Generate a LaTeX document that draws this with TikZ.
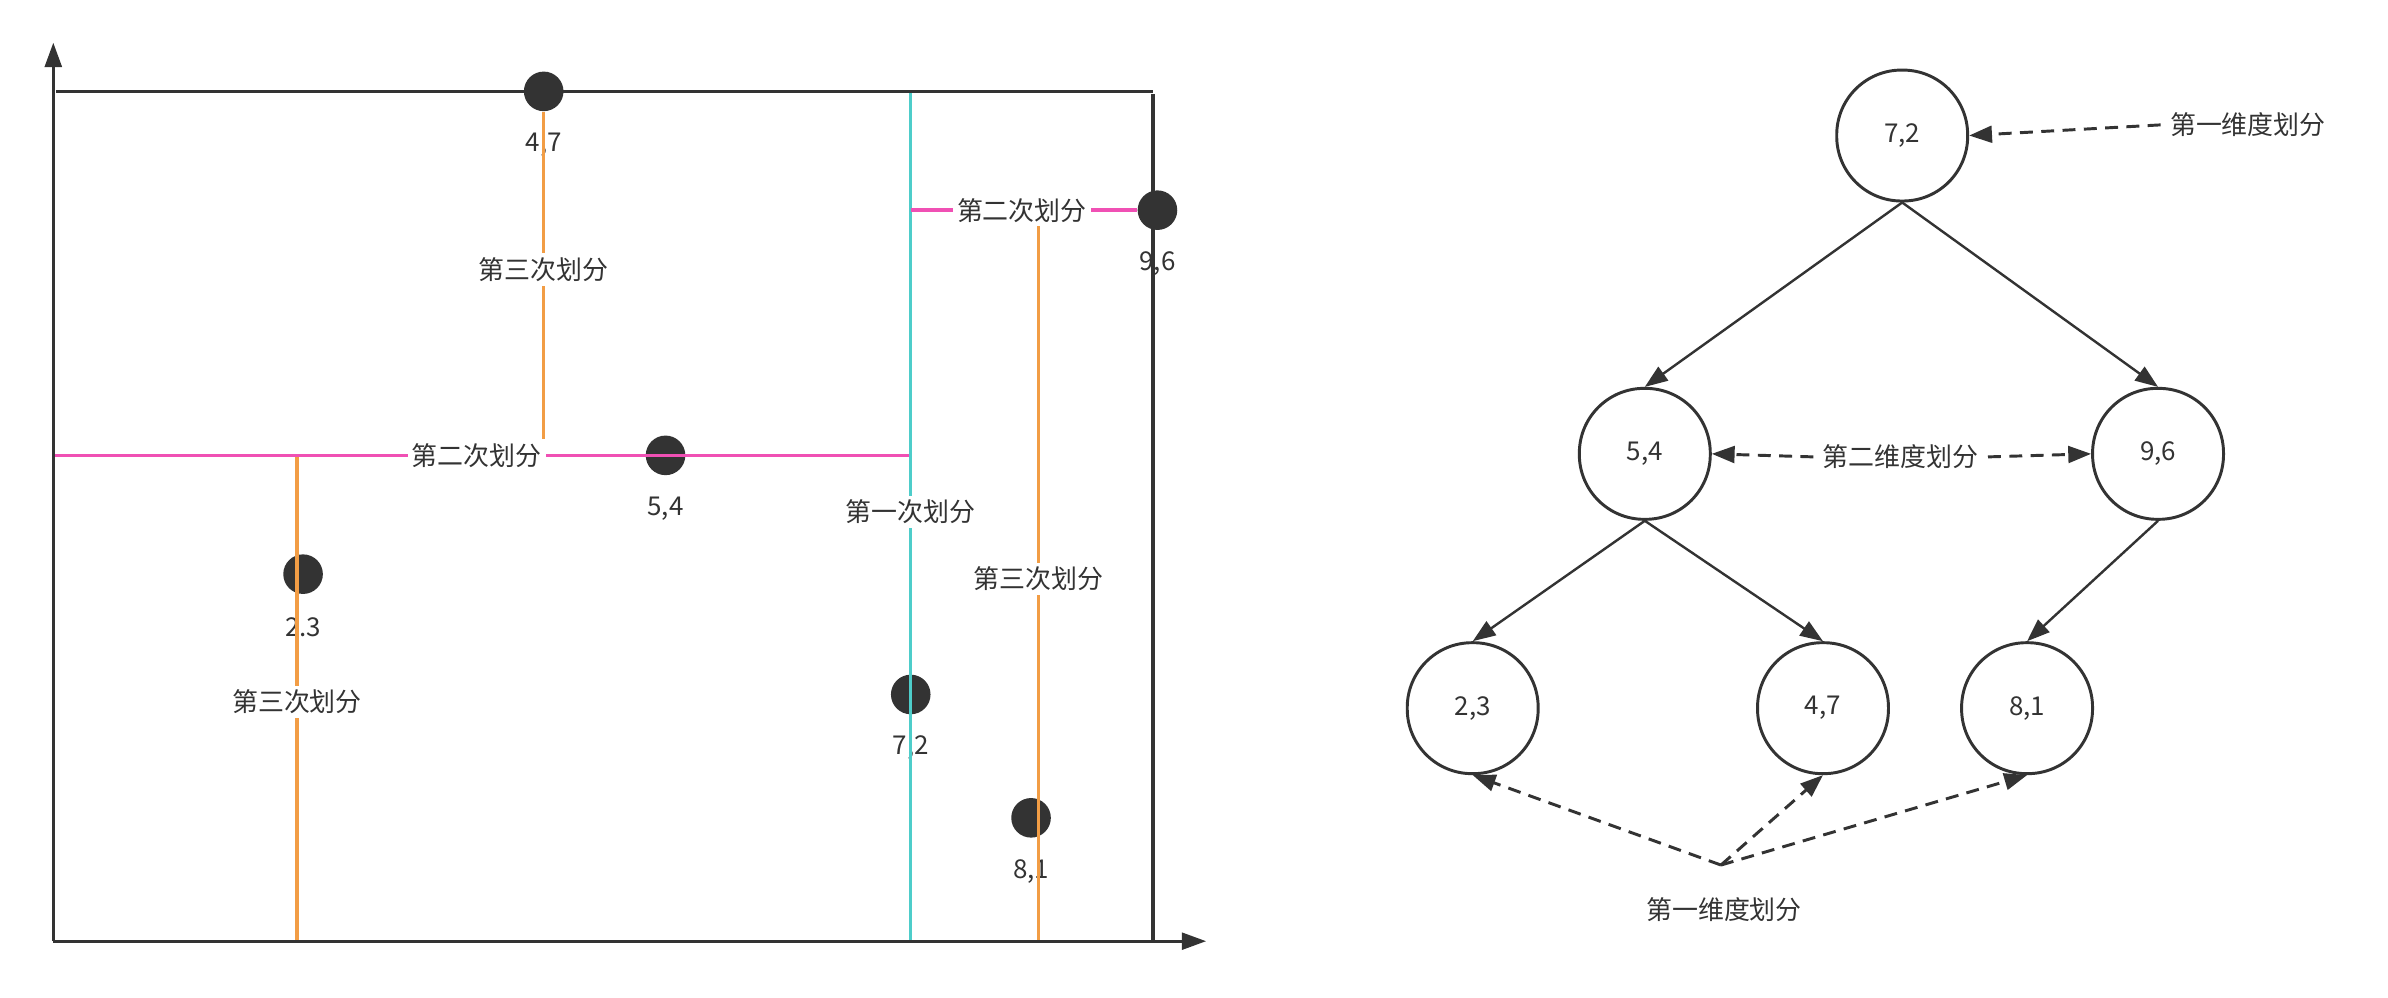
\documentclass[tikz,border=0pt]{standalone}
\usepackage{fontspec}
\setmainfont{Noto Sans CJK SC}
\usetikzlibrary{arrows.meta,positioning}
\definecolor{ink}{HTML}{333333}
\definecolor{cutpink}{HTML}{F050B4}
\definecolor{cutcyan}{HTML}{4ECDCA}
\definecolor{cutorange}{HTML}{F29D45}
\tikzset{
  dot/.style={circle,fill=ink,minimum size=0.52cm,inner sep=0pt},
  ptlabel/.style={text=ink,inner sep=0pt},
  frameline/.style={ink,line width=1.2pt},
  axisline/.style={frameline,-{Triangle[length=0.32cm,width=0.22cm]}},
  cutline/.style={line width=1.3pt},
  cutlabel/.style={fill=white,text=ink,inner sep=1.5pt},
  treenode/.style={draw=ink,line width=1.1pt,rectangle,rounded corners=0.85cm,minimum size=1.72cm,text=ink},
  treeedge/.style={ink,line width=0.9pt,-{Triangle[length=0.3cm,width=0.22cm]}},
  dimarrow/.style={ink,line width=1.1pt,dash pattern=on 0.17cm off 0.11cm,-{Triangle[length=0.3cm,width=0.22cm]}}
}
\begin{document}
\begin{tikzpicture}[x=0.02cm,y=-0.02cm,font=\fontsize{9.7pt}{11pt}\selectfont]
			\useasboundingbox (0,0) rectangle (1568,655.3);
			\node[dot] (p47) at (357,60) {};
			\node[dot] (p96) at (760,138) {};
			\node[dot] (p54) at (437,299) {};
			\node[dot] (p23) at (199,377) {};
			\node[dot] (p72) at (598,456) {};
			\node[dot] (p81) at (677,537) {};
			\node[ptlabel] (l47) at ([yshift=-0.7cm]p47.center) {4,7};
			\node[ptlabel] (l96) at ([yshift=-0.7cm]p96.center) {9,6};
			\node[ptlabel] (l54) at ([yshift=-0.7cm]p54.center) {5,4};
			\node[ptlabel] (l23) at ([yshift=-0.7cm]p23.center) {2.3};
			\node[ptlabel] (l72) at ([yshift=-0.7cm]p72.center) {7,2};
			\node[ptlabel] (l81) at ([yshift=-0.7cm]p81.center) {8,1};
			\draw[axisline] (35,618) -- (35,28);
			\draw[axisline] (35,618) -- (792,618);
			\draw[frameline] (37,60) -- (757,60);
			\draw[frameline] (757,62) -- (757,618);
			\draw[cutline,cutcyan] (598,61) -- (598,617);
			\draw[cutline,cutpink] (36,299) -- (597,299);
			\draw[cutline,cutpink] (598,138) -- (p96.west);
			\draw[cutline,cutorange] (p47.south) -- (357,298);
			\draw[cutline,cutorange] (195,300) -- (195,617);
			\draw[cutline,cutorange] (682,145) -- (682,617);
			\node[cutlabel] (c1) at (598,336) {第一次划分};
			\node[cutlabel] (c2a) at (313,299) {第二次划分};
			\node[cutlabel] (c2b) at (671,138) {第二次划分};
			\node[cutlabel] (c3a) at (357,177) {第三次划分};
			\node[cutlabel] (c3b) at (195,461) {第三次划分};
			\node[cutlabel] (c3c) at (682,380) {第三次划分};
			\node[treenode] (n72) at (1249,89) {7,2};
			\node[treenode] (n54) at (1080,298) {5,4};
			\node[treenode] (n96) at (1417,298) {9,6};
			\node[treenode] (n23) at (967,465) {2,3};
			\node[treenode] (n47) at (1197,465) {4,7};
			\node[treenode] (n81) at (1331,465) {8,1};
			\draw[treeedge] (n72.south) -- (n54.north);
			\draw[treeedge] (n72.south) -- (n96.north);
			\draw[treeedge] (n54.south) -- (n23.north);
			\draw[treeedge] (n54.south) -- (n47.north);
			\draw[treeedge] (n96.south) -- (n81.north);
			\node[text=ink] (dimtop) at (1476,82) {第一维度划分};
			\node[text=ink] (dimmid) at (1248,300) {第二维度划分};
			\node[text=ink] (dimlow) at (1132,597) {第一维度划分};
			\coordinate (hub) at (1130,568);
			\draw[dimarrow] (dimtop.west) -- (n72.east);
			\draw[dimarrow] (dimmid.west) -- (n54.east);
			\draw[dimarrow] (dimmid.east) -- (n96.west);
			\draw[dimarrow] (hub) -- (n23.south);
			\draw[dimarrow] (hub) -- (n47.south);
			\draw[dimarrow] (hub) -- (n81.south);
		\end{tikzpicture}
\end{document}
